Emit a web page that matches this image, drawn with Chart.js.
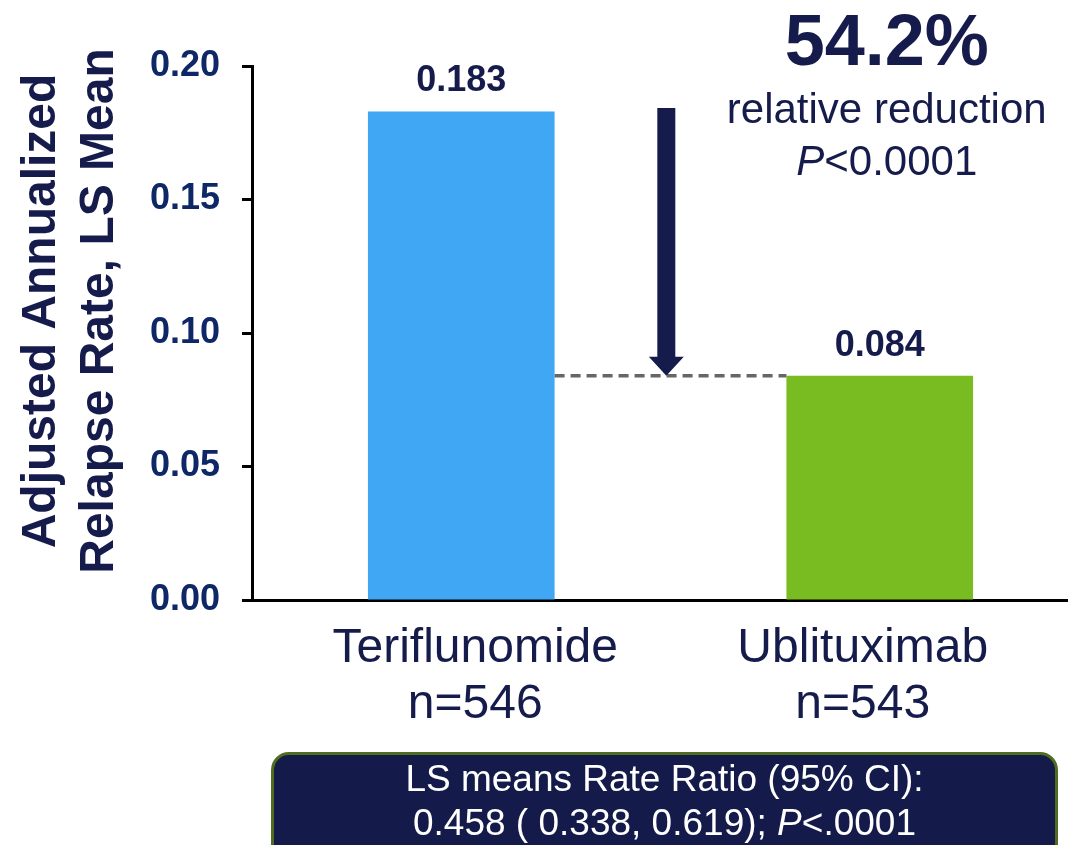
<!DOCTYPE html>
<html>
<head>
<meta charset="utf-8">
<script src="https://cdn.jsdelivr.net/npm/chart.js@4"></script>
<style>
  html, body { margin: 0; padding: 0; background: #fff; overflow: hidden; }
  #wrap { position: absolute; left: 0; top: 0; width: 1089px; height: 845px; }
  #ratioBox {
    position: absolute; left: 271px; top: 752px; width: 781px; height: 120px;
    box-sizing: content-box; padding-top: 2px;
    background: #141a4a; border: 3px solid #4f6d1f; border-radius: 18px;
    color: #fff; font-family: "Liberation Sans", Arial, sans-serif; font-size: 37px;
    text-align: center; line-height: 44px;
  }
  #ratioBox div { white-space: nowrap; }
</style>
</head>
<body>
<div id="wrap"><canvas id="arrChart"></canvas></div>
<div id="ratioBox">
  <div>LS means Rate Ratio (95% CI):</div>
  <div>0.458 ( 0.338, 0.619); <i>P</i>&lt;.0001</div>
</div>
<script>
    // data
    const categories = [['Teriflunomide', 'n=546'], ['Ublituximab', 'n=543']];
    const arrValues = [0.183, 0.084];
    const barColors = ['#3fa7f3', '#78bc22'];
    const yTicks = [0, 0.05, 0.10, 0.15, 0.20];
    const yTitle = ['Adjusted Annualized', 'Relapse Rate, LS Mean'];
    const arrowRange = [0.1843, 0.084];
    const reductionText = ['54.2%', 'relative reduction', '<0.0001'];

    const navy = '#151b4b';
    const tickBlue = '#0e2766';
    const FONT = '"Liberation Sans", Arial, sans-serif';
    // category labels sit a bit toward the middle of the plot
    const labelShift = [14, -17];

    // draws category labels, value labels, dashed reference line, arrow, annotation and y title
    const extrasPlugin = {
        id: 'extras',
        afterDatasetsDraw(chart) {
            const ctx = chart.ctx;
            const meta = chart.getDatasetMeta(0);
            const xs = chart.scales.x;
            const ys = chart.scales.y;

            // category labels under the axis
            ctx.save();
            ctx.font = '48px ' + FONT;
            ctx.fillStyle = navy;
            ctx.textAlign = 'center';
            ctx.textBaseline = 'alphabetic';
            categories.forEach((lines, i) => {
                const x = xs.getPixelForValue(i) + labelShift[i];
                lines.forEach((t, j) => ctx.fillText(t, x, xs.top + 62 + j * 56));
            });
            ctx.restore();

            // value labels
            ctx.save();
            ctx.font = 'bold 36px ' + FONT;
            ctx.fillStyle = navy;
            ctx.textAlign = 'center';
            ctx.textBaseline = 'alphabetic';
            meta.data.forEach((bar, i) => {
                ctx.fillText(arrValues[i].toFixed(3), bar.x, bar.y - 20);
            });
            ctx.restore();

            // dashed line at the lower value
            const b0 = meta.data[0], b1 = meta.data[1];
            const yLow = ys.getPixelForValue(arrValues[1]);
            ctx.save();
            ctx.strokeStyle = '#666666';
            ctx.lineWidth = 3.5;
            ctx.setLineDash([10, 6]);
            ctx.beginPath();
            ctx.moveTo(b0.x + b0.width / 2, yLow);
            ctx.lineTo(b1.x - b1.width / 2, yLow);
            ctx.stroke();
            ctx.restore();

            // arrow
            const ax = xs.getPixelForValue(0) + 0.49 * (xs.getPixelForValue(1) - xs.getPixelForValue(0));
            const aTop = ys.getPixelForValue(arrowRange[0]);
            const aTip = ys.getPixelForValue(arrowRange[1]);
            ctx.save();
            ctx.fillStyle = navy;
            ctx.beginPath();
            ctx.moveTo(ax - 9, aTop);
            ctx.lineTo(ax + 9, aTop);
            ctx.lineTo(ax + 9, aTip - 19);
            ctx.lineTo(ax + 17.5, aTip - 19);
            ctx.lineTo(ax, aTip);
            ctx.lineTo(ax - 17.5, aTip - 19);
            ctx.lineTo(ax - 9, aTip - 19);
            ctx.closePath();
            ctx.fill();
            ctx.restore();

            // reduction annotation
            const cx = xs.getPixelForValue(1) + 7;
            ctx.save();
            ctx.fillStyle = navy;
            ctx.textAlign = 'center';
            ctx.textBaseline = 'alphabetic';
            ctx.font = 'bold 72px ' + FONT;
            ctx.fillText(reductionText[0], cx, 65);
            ctx.font = '42px ' + FONT;
            ctx.fillText(reductionText[1], cx, 123);
            ctx.font = 'italic 42px ' + FONT;
            const pW = ctx.measureText('P').width;
            ctx.font = '42px ' + FONT;
            const restW = ctx.measureText(reductionText[2]).width;
            const startX = cx - (pW + restW) / 2;
            ctx.textAlign = 'left';
            ctx.font = 'italic 42px ' + FONT;
            ctx.fillText('P', startX, 175);
            ctx.font = '42px ' + FONT;
            ctx.fillText(reductionText[2], startX + pW, 175);
            ctx.restore();

            // y axis title, two rotated lines
            const midY = (ys.top + ys.bottom) / 2 - 22;
            ctx.save();
            ctx.fillStyle = navy;
            ctx.font = 'bold 48px ' + FONT;
            ctx.textAlign = 'center';
            ctx.textBaseline = 'middle';
            [42, 100].forEach((x, i) => {
                ctx.save();
                ctx.translate(x, midY);
                ctx.rotate(-Math.PI / 2);
                ctx.fillText(yTitle[i], 0, 0);
                ctx.restore();
            });
            ctx.restore();
        }
    };

    const ctx = document.getElementById('arrChart').getContext('2d');

    const chartConfig = {
        type: 'bar',
        data: {
            labels: categories,
            datasets: [{
                data: arrValues,
                backgroundColor: barColors,
                borderWidth: 0,
                barPercentage: 0.446,
                categoryPercentage: 1
            }]
        },
        options: {
            responsive: true,
            maintainAspectRatio: false,
            animation: false,
            layout: { padding: { top: 66, right: 0, bottom: 0, left: 0 } },
            plugins: {
                legend: { display: false },
                tooltip: { enabled: false }
            },
            scales: {
                x: {
                    afterFit(scale) { scale.height = 245; },
                    grid: { display: false },
                    border: { color: '#000', width: 3 },
                    ticks: { display: false }
                },
                y: {
                    min: 0,
                    max: 0.2,
                    afterFit(scale) { scale.width = 252; },
                    afterBuildTicks(scale) { scale.ticks = yTicks.map(v => ({ value: v })); },
                    grid: {
                        drawOnChartArea: false,
                        drawTicks: true,
                        tickLength: 10,
                        tickWidth: 3,
                        tickColor: '#000'
                    },
                    border: { color: '#000', width: 3 },
                    ticks: {
                        color: tickBlue,
                        padding: 22,
                        callback: v => Number(v).toFixed(2),
                        font: { family: FONT, size: 36, weight: 'bold' }
                    }
                }
            }
        },
        plugins: [extrasPlugin]
    };

    const arrChart = new Chart(ctx, chartConfig);
</script>
</body>
</html>
